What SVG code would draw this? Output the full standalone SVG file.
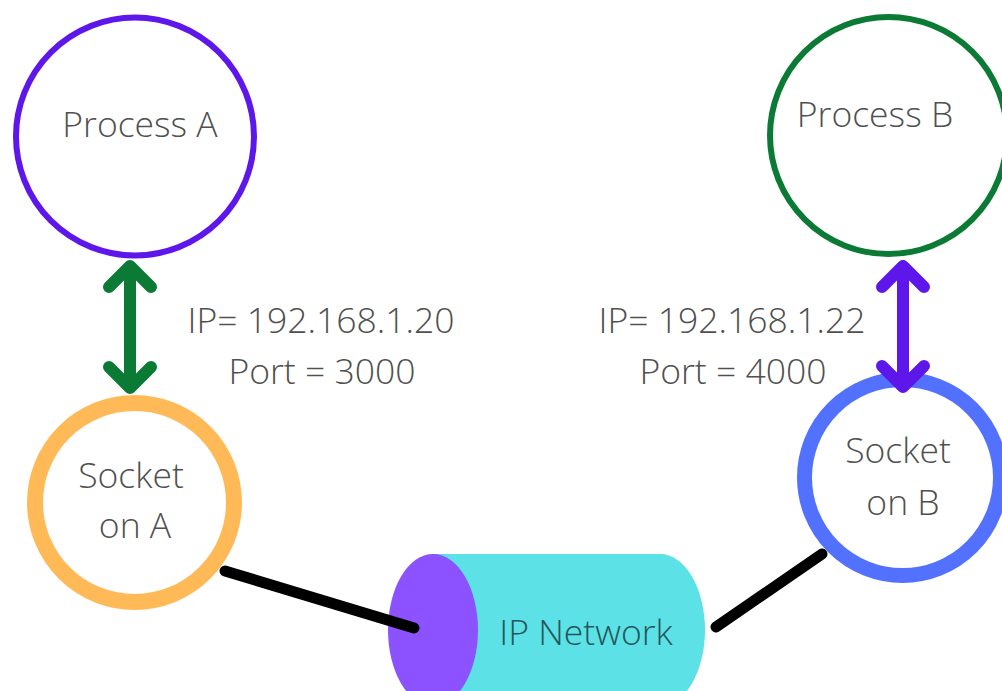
<svg xmlns="http://www.w3.org/2000/svg" width="1002" height="691" viewBox="0 0 1002 691">
  <style>
    .label { font-family: "Open Sans", "Noto Sans", "Liberation Sans", sans-serif; font-size: 35.5px; font-weight: 350; fill: #505050; text-anchor: middle; }
    .net-label { fill: #245659; }
    .ring { fill: #ffffff; }
    .arrow { fill: none; stroke-width: 12; stroke-linecap: round; stroke-linejoin: round; }
    .link { fill: none; stroke: #000000; stroke-width: 11; stroke-linecap: round; }
  </style>

  <rect width="1002" height="691" fill="#ffffff"/>

  <g id="process-a">
    <circle class="ring" cx="135" cy="136.5" r="119" stroke="#5e17eb" stroke-width="6"/>
    <text class="label" x="140" y="137">Process A</text>
  </g>

  <g id="process-b">
    <circle class="ring" cx="888.5" cy="135.5" r="118.5" stroke="#0b7a35" stroke-width="6"/>
    <text class="label" x="875" y="127">Process B</text>
  </g>

  <g id="socket-a">
    <circle class="ring" cx="134.5" cy="502.5" r="99.5" stroke="#ffb957" stroke-width="16"/>
    <text class="label" x="131" y="488">Socket</text>
    <text class="label" x="135" y="538">on A</text>
  </g>

  <g id="socket-b">
    <circle class="ring" cx="902.5" cy="477.5" r="98" stroke="#5271ff" stroke-width="15"/>
    <text class="label" x="898" y="463">Socket</text>
    <text class="label" x="903" y="515">on B</text>
  </g>

  <g id="ip-network">
    <rect x="433" y="554" width="227" height="152" fill="#5ce1e6"/>
    <ellipse cx="660" cy="630" rx="45" ry="76" fill="#5ce1e6"/>
    <ellipse cx="433" cy="630" rx="45" ry="76" fill="#8c52ff"/>
    <text class="label net-label" x="586" y="645">IP Network</text>
  </g>

  <g id="address-a">
    <text class="label" x="321" y="333">IP= 192.168.1.20</text>
    <text class="label" x="322" y="384">Port = 3000</text>
  </g>

  <g id="address-b">
    <text class="label" x="732" y="333">IP= 192.168.1.22</text>
    <text class="label" x="733" y="384">Port = 4000</text>
  </g>

  <g id="connectors">
    <!-- process A <-> socket A -->
    <path class="arrow" stroke="#0b7a35" d="M130,266 V388 M109,287 L130,266 L151,287 M109,367 L130,388 L151,367"/>
    <!-- process B <-> socket B -->
    <path class="arrow" stroke="#5e17eb" d="M903,266 V387 M882,287 L903,266 L924,287 M882,366 L903,387 L924,366"/>
    <!-- sockets to the network -->
    <line class="link" x1="225" y1="571" x2="414" y2="628"/>
    <line class="link" x1="716" y1="627" x2="822" y2="554"/>
  </g>
</svg>
